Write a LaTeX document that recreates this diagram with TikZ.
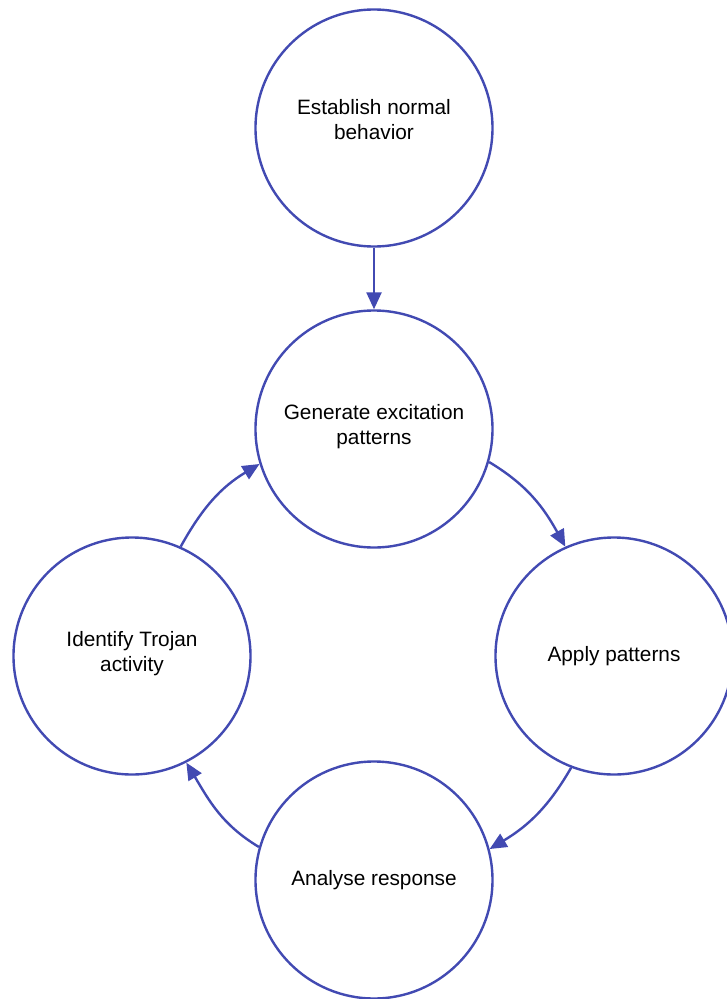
\documentclass[tikz,border=0pt]{standalone}
\usepackage{fontspec}
\setmainfont{Liberation Sans}
\usetikzlibrary{arrows.meta}
\definecolor{ringblue}{RGB}{66,74,178}
\tikzset{
  stage/.style={circle, draw=ringblue, line width=2.4pt, minimum size=237pt,
    inner sep=0pt, align=center, font=\fontsize{20.8pt}{25pt}\selectfont, text=black},
  caption/.style={align=center, inner sep=0pt, font=\fontsize{20.8pt}{25pt}\selectfont},
  flow/.style={draw=ringblue, line width=2.4pt,
    -{Triangle[length=17pt,width=15pt]}}
}
\begin{document}
\begin{tikzpicture}[x=1pt,y=-1pt]
  \useasboundingbox (0,0) rectangle (726,999);
  % the first stage carries its caption a little above its centre
  \node[stage] (est) at (374,128) {};
  \node[caption] (estcap) at (374,120) {Establish normal\\behavior};
  \node[stage] (gen) at (374,429) {};
  \node[caption] (gencap) at (374,427) {Generate excitation\\patterns};
  \node[stage] (app) at (614,656) {Apply patterns};
  \node[stage] (ana) at (374,880) {Analyse response};
  \node[stage] (ide) at (132,656) {};
  \node[caption] (idecap) at (132,654) {Identify Trojan\\activity};

  \draw[flow] (est.south) -- (gen.north);
  \draw[flow] (gen.-16.6) to[out=-31,in=119] (app.114.6);
  \draw[flow] (app.-111.4) to[out=-120,in=31] (ana.15.7);
  \draw[flow] (ana.164.3) to[out=149,in=-59] (ide.-63.6);
  \draw[flow] (ide.66.9) to[out=61,in=-149] (gen.197.1);
\end{tikzpicture}
\end{document}
